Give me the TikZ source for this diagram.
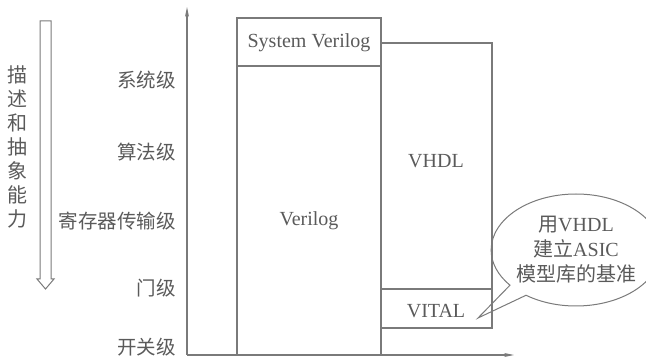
\documentclass[tikz,border=0pt]{standalone}
\usepackage{fontspec}
\setmainfont{Liberation Serif}
\newfontfamily\cjk{Noto Sans CJK SC}
\usetikzlibrary{shapes.callouts,arrows.meta}
\definecolor{ln}{HTML}{7A7A7A}
\definecolor{tx}{HTML}{5A5A5A}
\tikzset{
  boxline/.style={draw=ln,line width=1.2pt},
  lvl/.style={anchor=east,text=tx,font=\cjk\fontsize{19.5}{22}\selectfont,inner sep=0pt},
  lat/.style={text=tx,font=\fontsize{20}{22}\selectfont,inner sep=0pt},
  axis/.style={draw=ln,line width=1.1pt,-{Stealth[length=10pt,width=4pt]}},
}
\begin{document}
\begin{tikzpicture}[x=1pt,y=-1pt]
\useasboundingbox (0,0) rectangle (646,358);
% hollow arrow
\draw[ln,line width=1pt] (40,21) -- (51,21) -- (51,279) -- (54,279) -- (45.5,289) -- (37,279) -- (40,279) -- cycle;
\node[text=tx,font=\cjk\fontsize{20}{24}\selectfont,align=center,inner sep=0pt,anchor=north] (desc) at (18,66)
  {描\\述\\和\\抽\\象\\能\\力};
% level labels
\node[lvl] (l1) at (176,80) {系统级};
\node[lvl] (l2) at (176,152) {算法级};
\node[lvl] (l3) at (176,221) {寄存器传输级};
\node[lvl] (l4) at (176,288) {门级};
\node[lvl] (l5) at (176,347) {开关级};
% axes
\coordinate (o) at (187,355);
\coordinate (ytop) at (187,7);
\coordinate (xend) at (514,355);
\draw[axis] (o) -- (ytop);
\draw[axis] (o) -- (xend);
% boxes
\draw[boxline] (237,355) -- (237,18) -- (381,18) -- (381,355);
\draw[boxline] (237,66) -- (381,66);
\draw[boxline] (381,43) -- (492,43) -- (492,328) -- (381,328);
\draw[boxline] (381,289) -- (492,289);
\node[lat] (sv) at (309,43) {System Verilog};
\node[lat] (vl) at (309,221) {Verilog};
\node[lat] (vh) at (436,161) {VHDL};
\node[lat] (vt) at (436,311) {VITAL};
% callout
\node[ellipse callout,draw=ln,line width=1pt,minimum width=150pt,minimum height=112pt,
  callout absolute pointer={(478,318)},text=tx,align=center,inner sep=0pt,
  font=\cjk\fontsize{20}{25}\selectfont] (co) at (576,250)
  {用{\rmfamily\fontsize{20}{25}\selectfont VHDL}\\建立{\rmfamily\fontsize{20}{25}\selectfont ASIC}\\模型库的基准};
\end{tikzpicture}
\end{document}
